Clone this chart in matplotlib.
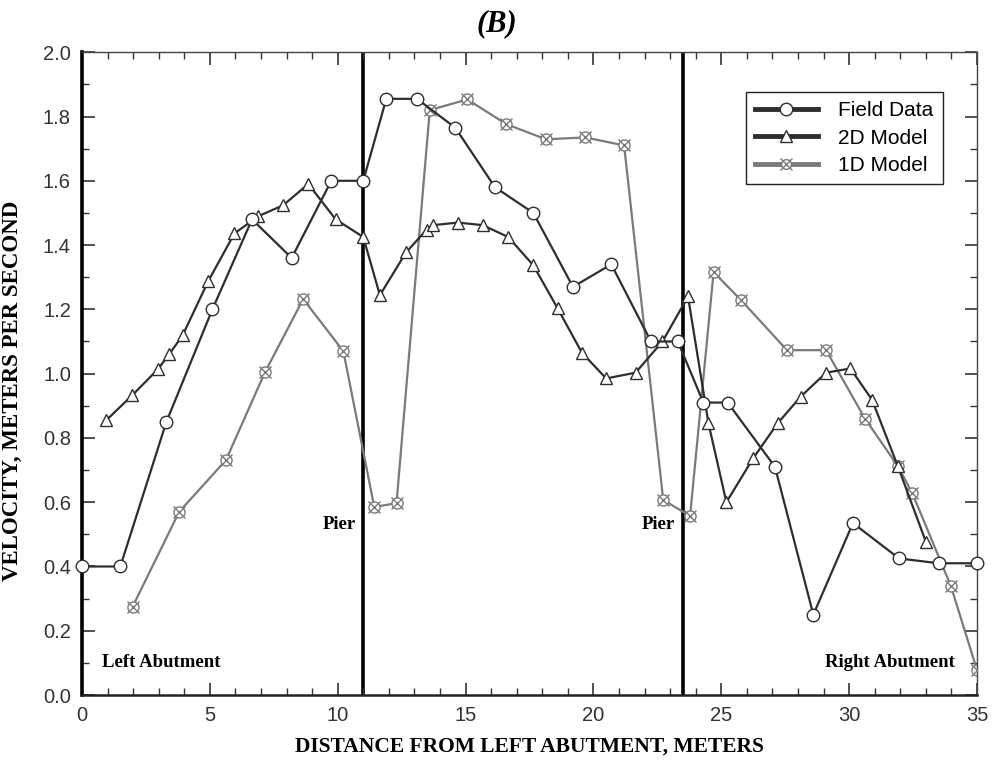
import matplotlib
matplotlib.use('Agg')
import matplotlib.pyplot as plt
from matplotlib.ticker import MultipleLocator
from matplotlib.lines import Line2D

# Field measurements
field_x = [0.0, 1.5, 3.3, 5.1, 6.65, 8.2, 9.75, 11.0, 11.9, 13.1, 14.6, 16.15,
           17.65, 19.2, 20.7, 22.25, 23.3, 24.3, 25.25, 27.1, 28.6, 30.15, 31.95, 33.5, 35.0]
field_v = [0.40, 0.40, 0.85, 1.20, 1.48, 1.36, 1.60, 1.60, 1.855, 1.855, 1.765, 1.58,
           1.50, 1.27, 1.34, 1.10, 1.10, 0.91, 0.91, 0.71, 0.25, 0.535, 0.425, 0.41, 0.41]

# 2D model
m2d_x = [0.95, 1.97, 2.96, 3.41, 3.94, 4.94, 5.96, 6.9, 7.87, 8.85, 9.92, 11.0, 11.65,
         12.67, 13.48, 13.74, 14.7, 15.67, 16.67, 17.65, 18.6, 19.55, 20.5, 21.65, 22.7,
         23.7, 24.5, 25.2, 26.25, 27.2, 28.1, 29.1, 30.05, 30.9, 31.9, 33.0]
m2d_v = [0.855, 0.933, 1.013, 1.06, 1.12, 1.288, 1.436, 1.49, 1.524, 1.59, 1.48, 1.425,
         1.244, 1.377, 1.448, 1.462, 1.47, 1.462, 1.425, 1.337, 1.203, 1.065, 0.985, 1.003,
         1.10, 1.24, 0.845, 0.60, 0.737, 0.845, 0.928, 1.003, 1.016, 0.918, 0.713, 0.477]

# 1D model
m1d_x = [1.98, 3.8, 5.63, 7.16, 8.65, 10.22, 11.43, 12.3, 13.6, 15.07, 16.6, 18.15,
         19.68, 21.2, 22.73, 23.78, 24.7, 25.77, 27.57, 29.1, 30.62, 31.9, 32.47, 33.98, 35.0]
m1d_v = [0.275, 0.57, 0.731, 1.005, 1.232, 1.07, 0.585, 0.597, 1.82, 1.853, 1.776, 1.729,
         1.735, 1.71, 0.607, 0.557, 1.316, 1.229, 1.073, 1.073, 0.86, 0.713, 0.628, 0.339, 0.078]

pier_x = [11.0, 23.5]

DARK = '#2e2e2e'
GRAY = '#7a7a7a'
SANS = 'Liberation Sans'
SERIF = 'Liberation Serif'

fig = plt.figure(figsize=(9.95, 7.68), dpi=100)
ax = fig.add_axes([0.0824, 0.095, 0.8995, 0.837])

for px in pier_x:
    ax.axvline(px, color='black', lw=2.6, zorder=1)

ax.plot(m1d_x, m1d_v, color=GRAY, lw=1.6, marker='o', ms=8, mfc='white',
        mec=GRAY, mew=1.0, zorder=2)
ax.plot(m1d_x, m1d_v, ls='none', marker='x', ms=9, mec=GRAY, mew=1.0, zorder=3)
ax.plot(m2d_x, m2d_v, color=DARK, lw=1.6, marker='^', ms=9, mfc='white',
        mec=DARK, mew=1.0, zorder=4)
ax.plot(field_x, field_v, color=DARK, lw=1.6, marker='o', ms=9, mfc='white',
        mec=DARK, mew=1.0, zorder=5, clip_on=False)

ax.set_xlim(0, 35)
ax.set_ylim(0, 2.0)
ax.xaxis.set_major_locator(MultipleLocator(5))
ax.xaxis.set_minor_locator(MultipleLocator(1))
ax.yaxis.set_major_locator(MultipleLocator(0.2))
ax.yaxis.set_minor_locator(MultipleLocator(0.1))
ax.yaxis.set_major_formatter(plt.FuncFormatter(lambda v, p: f'{v:.1f}'))
ax.tick_params(which='both', direction='in', top=True, right=True, color='#333333')
ax.tick_params(which='major', length=9, width=1.2, labelsize=14.5, pad=8)
ax.tick_params(which='minor', length=5, width=1.0)
for lab in ax.get_xticklabels() + ax.get_yticklabels():
    lab.set_family(SANS)
    lab.set_color('#333333')

ax.spines['left'].set_linewidth(2.6)
ax.spines['left'].set_color('black')
ax.spines['bottom'].set_linewidth(1.8)
ax.spines['bottom'].set_color('#222222')
for s in ('top', 'right'):
    ax.spines[s].set_linewidth(1.0)
    ax.spines[s].set_color('#444444')

ax.set_xlabel('DISTANCE FROM LEFT ABUTMENT, METERS', family=SERIF, fontweight='bold',
              fontsize=15.5, labelpad=8)
ax.set_ylabel('VELOCITY, METERS PER SECOND', family=SERIF, fontweight='bold',
              fontsize=16.5)
ax.yaxis.set_label_coords(-0.066, 0.474)
fig.text(0.499, 0.969, '(B)', family=SERIF, fontweight='bold', style='italic',
         fontsize=22, ha='center', va='center')

note = dict(family=SERIF, fontweight='bold', fontsize=13.5, va='center')
ax.text(0.78, 0.10, 'Left Abutment', ha='left', **note)
ax.text(10.7, 0.53, 'Pier', ha='right', **note)
ax.text(23.2, 0.53, 'Pier', ha='right', **note)
ax.text(34.15, 0.10, 'Right Abutment', ha='right', **note)

h_field = Line2D([], [], color=DARK, lw=3.5, marker='o', ms=9, mfc='white', mec=DARK)
h_2d = Line2D([], [], color=DARK, lw=3.5, marker='^', ms=8, mfc='white', mec=DARK)
h_1d_o = Line2D([], [], color=GRAY, lw=3.5, marker='o', ms=7, mfc='white', mec=GRAY)
h_1d_x = Line2D([], [], ls='none', marker='x', ms=8, mec=GRAY)
leg = ax.legend([h_field, h_2d, (h_1d_o, h_1d_x)], ['Field Data', '2D Model', '1D Model'],
                loc='upper right', bbox_to_anchor=(0.962, 0.938), borderaxespad=0,
                fancybox=False, framealpha=1, edgecolor='#222222',
                prop={'family': SANS, 'size': 15}, handlelength=3.0, handletextpad=1.0,
                borderpad=0.45, labelspacing=0.4)
leg.get_frame().set_linewidth(1.0)

fig.savefig('out.png', dpi=100)
